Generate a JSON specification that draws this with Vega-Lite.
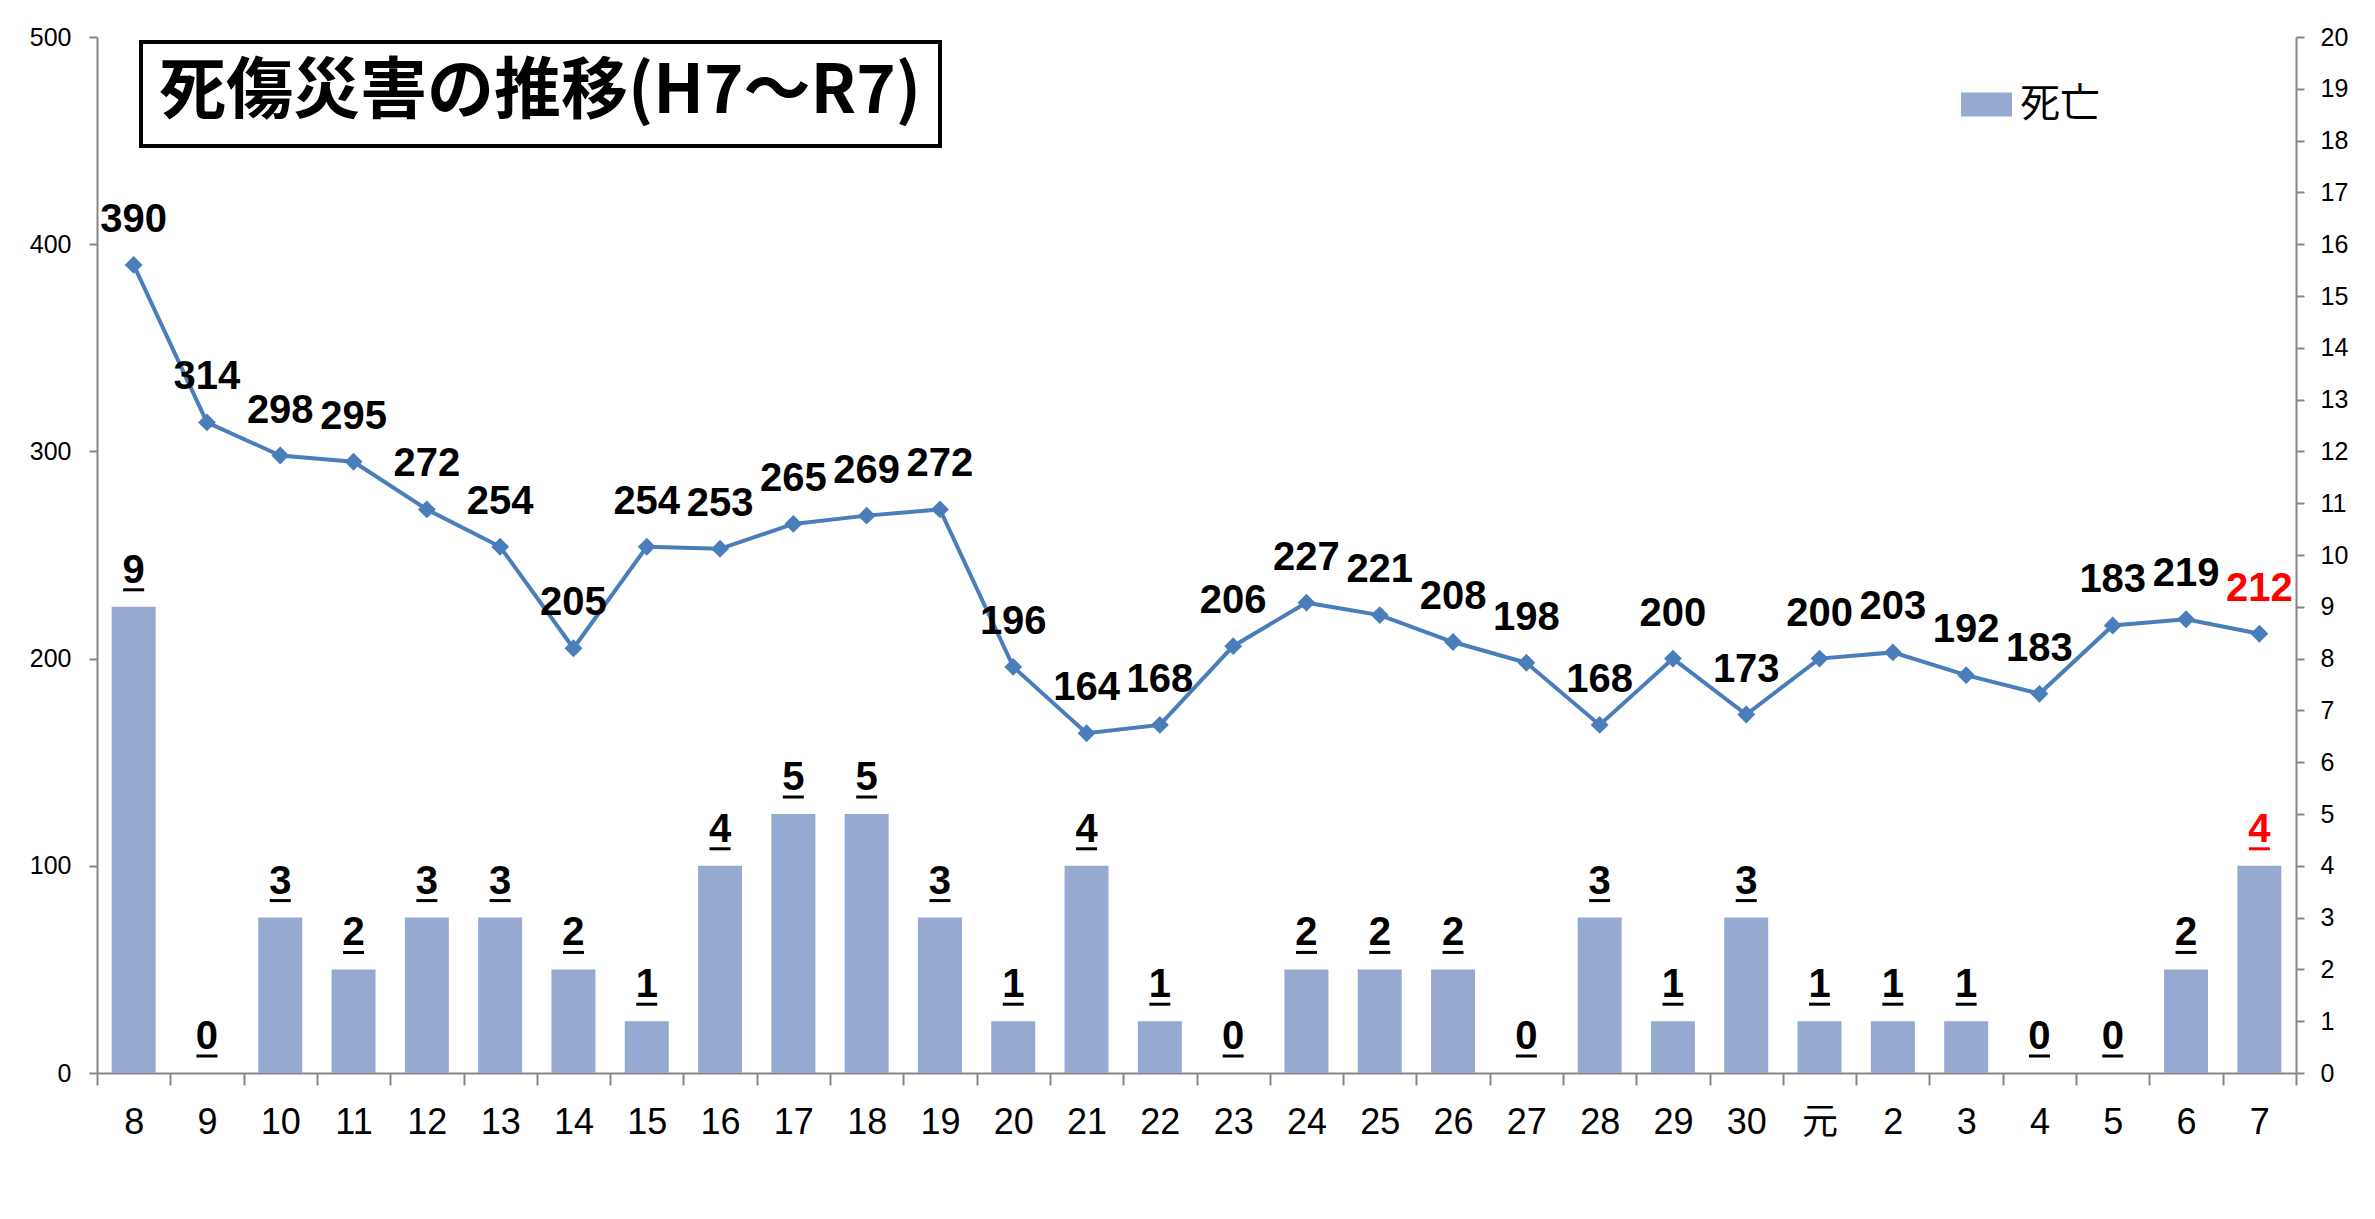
{
  "$schema": "https://vega.github.io/schema/vega-lite/v6.json",
  "width": 2199,
  "height": 1036,
  "autosize": {"type": "none"},
  "padding": {"left": 97, "top": 37, "right": 79, "bottom": 146},
  "background": "white",
  "config": {
    "view": {"stroke": null},
    "font": "Liberation Sans Narrow, Liberation Sans, Noto Sans CJK JP, sans-serif",
    "axis": {
      "grid": false,
      "domainColor": "#868686",
      "tickColor": "#868686",
      "domainWidth": 2,
      "tickWidth": 2,
      "labelColor": "#000000",
      "labelFont": "Liberation Sans Narrow, Liberation Sans, Noto Sans CJK JP, sans-serif",
      "title": null
    },
    "legend": {"strokeWidth": 4}
  },
  "data": {
    "values": [
      {"year": "8", "inj": 390, "injLabel": "390", "deaths": 9},
      {"year": "9", "inj": 314, "injLabel": "314", "deaths": 0},
      {"year": "10", "inj": 298, "injLabel": "298", "deaths": 3},
      {"year": "11", "inj": 295, "injLabel": "295", "deaths": 2},
      {"year": "12", "inj": 272, "injLabel": "272", "deaths": 3},
      {"year": "13", "inj": 254, "injLabel": "254", "deaths": 3},
      {"year": "14", "inj": 205, "injLabel": "205", "deaths": 2},
      {"year": "15", "inj": 254, "injLabel": "254", "deaths": 1},
      {"year": "16", "inj": 253, "injLabel": "253", "deaths": 4},
      {"year": "17", "inj": 265, "injLabel": "265", "deaths": 5},
      {"year": "18", "inj": 269, "injLabel": "269", "deaths": 5},
      {"year": "19", "inj": 272, "injLabel": "272", "deaths": 3},
      {"year": "20", "inj": 196, "injLabel": "196", "deaths": 1},
      {"year": "21", "inj": 164, "injLabel": "164", "deaths": 4},
      {"year": "22", "inj": 168, "injLabel": "168", "deaths": 1},
      {"year": "23", "inj": 206, "injLabel": "206", "deaths": 0},
      {"year": "24", "inj": 227, "injLabel": "227", "deaths": 2},
      {"year": "25", "inj": 221, "injLabel": "221", "deaths": 2},
      {"year": "26", "inj": 208, "injLabel": "208", "deaths": 2},
      {"year": "27", "inj": 198, "injLabel": "198", "deaths": 0},
      {"year": "28", "inj": 168, "injLabel": "168", "deaths": 3},
      {"year": "29", "inj": 200, "injLabel": "200", "deaths": 1},
      {"year": "30", "inj": 173, "injLabel": "173", "deaths": 3},
      {"year": "元", "inj": 200, "injLabel": "200", "deaths": 1},
      {"year": "2", "inj": 203, "injLabel": "203", "deaths": 1},
      {"year": "3", "inj": 192, "injLabel": "192", "deaths": 1},
      {"year": "4", "inj": 183, "injLabel": "183", "deaths": 0},
      {"year": "5", "inj": 216, "injLabel": "183", "deaths": 0},
      {"year": "6", "inj": 219, "injLabel": "219", "deaths": 2},
      {"year": "7", "inj": 212, "injLabel": "212", "deaths": 4}
    ]
  },
  "layer": [
    {
      "layer": [
        {
          "mark": {"type": "bar", "width": {"band": 0.6}},
          "encoding": {
            "x": {
              "field": "year", "type": "nominal", "sort": null,
              "scale": {"paddingInner": 0, "paddingOuter": 0},
              "axis": {"tickBand": "extent", "tickSize": 12, "labelAngle": 0, "labelFontSize": 36, "labelPadding": 20, "title": null}
            },
            "y": {
              "field": "deaths", "type": "quantitative",
              "scale": {"domain": [0, 20], "nice": false},
              "axis": {"orient": "right", "values": [0,1,2,3,4,5,6,7,8,9,10,11,12,13,14,15,16,17,18,19,20], "tickSize": 8, "labelPadding": 16, "labelFontSize": 25, "title": null}
            },
            "fill": {
              "datum": "死亡",
              "scale": {"range": ["#95A9D1"]},
              "legend": {
                "orient": "none", "legendX": 1864, "legendY": 42, "title": null, "padding": 0,
                "symbolType": "M-1,-0.47H1V0.47H-1Z", "symbolSize": 2601, "symbolStrokeWidth": 0,
                "labelFontSize": 40, "labelFont": "Noto Sans CJK JP", "labelOffset": 8, "labelLimit": 500, "labelColor": "#000000"
              }
            }
          }
        },
        {
          "mark": {"type": "text", "fontSize": 40, "fontWeight": "bold", "baseline": "middle", "dy": -36},
          "encoding": {
            "x": {"field": "year", "type": "nominal", "sort": null},
            "y": {"field": "deaths", "type": "quantitative", "scale": {"domain": [0, 20], "nice": false}},
            "text": {"field": "deaths", "type": "quantitative"},
            "color": {"condition": {"test": "datum.year === '7'", "value": "#FF0000"}, "value": "#000000"}
          }
        },
        {
          "mark": {"type": "tick", "size": 21, "thickness": 3, "yOffset": -17, "opacity": 1},
          "encoding": {
            "x": {"field": "year", "type": "nominal", "sort": null},
            "y": {"field": "deaths", "type": "quantitative", "scale": {"domain": [0, 20], "nice": false}},
            "color": {"condition": {"test": "datum.year === '7'", "value": "#FF0000"}, "value": "#000000"}
          }
        }
      ]
    },
    {
      "layer": [
        {
          "mark": {"type": "line", "color": "#4A7EBB", "strokeWidth": 4},
          "encoding": {
            "x": {"field": "year", "type": "nominal", "sort": null},
            "y": {
              "field": "inj", "type": "quantitative",
              "scale": {"domain": [0, 500], "nice": false},
              "axis": {"orient": "left", "values": [0, 100, 200, 300, 400, 500], "tickSize": 8, "labelPadding": 18, "labelFontSize": 25, "title": null}
            }
          }
        },
        {
          "mark": {"type": "point", "filled": true, "color": "#4A7EBB", "size": 320, "opacity": 1},
          "encoding": {
            "x": {"field": "year", "type": "nominal", "sort": null},
            "y": {"field": "inj", "type": "quantitative", "scale": {"domain": [0, 500], "nice": false}},
            "shape": {
              "datum": "死傷",
              "scale": {"range": ["diamond"]},
              "legend": {
                "orient": "none", "legendX": 44, "legendY": 5,
                "title": "死傷災害の推移(H7～R7)",
                "titleFontSize": 67, "titleFont": "Noto Sans CJK JP", "titleFontWeight": "bold",
                "titleColor": "#000000", "titlePadding": 0, "titleLimit": 2000,
                "strokeColor": "#000000", "fillColor": "#FFFFFF", "padding": 18,
                "symbolSize": 1, "symbolOpacity": 0, "symbolStrokeWidth": 0,
                "labelExpr": "''", "labelFontSize": 1, "labelOffset": 0, "rowPadding": 0
              }
            }
          }
        },
        {
          "mark": {"type": "text", "fontSize": 40, "fontWeight": "bold", "baseline": "middle", "dy": -45},
          "encoding": {
            "x": {"field": "year", "type": "nominal", "sort": null},
            "y": {"field": "inj", "type": "quantitative", "scale": {"domain": [0, 500], "nice": false}},
            "text": {"field": "injLabel", "type": "nominal"},
            "color": {"condition": {"test": "datum.year === '7'", "value": "#FF0000"}, "value": "#000000"}
          }
        }
      ]
    }
  ],
  "resolve": {"scale": {"y": "independent"}}
}
